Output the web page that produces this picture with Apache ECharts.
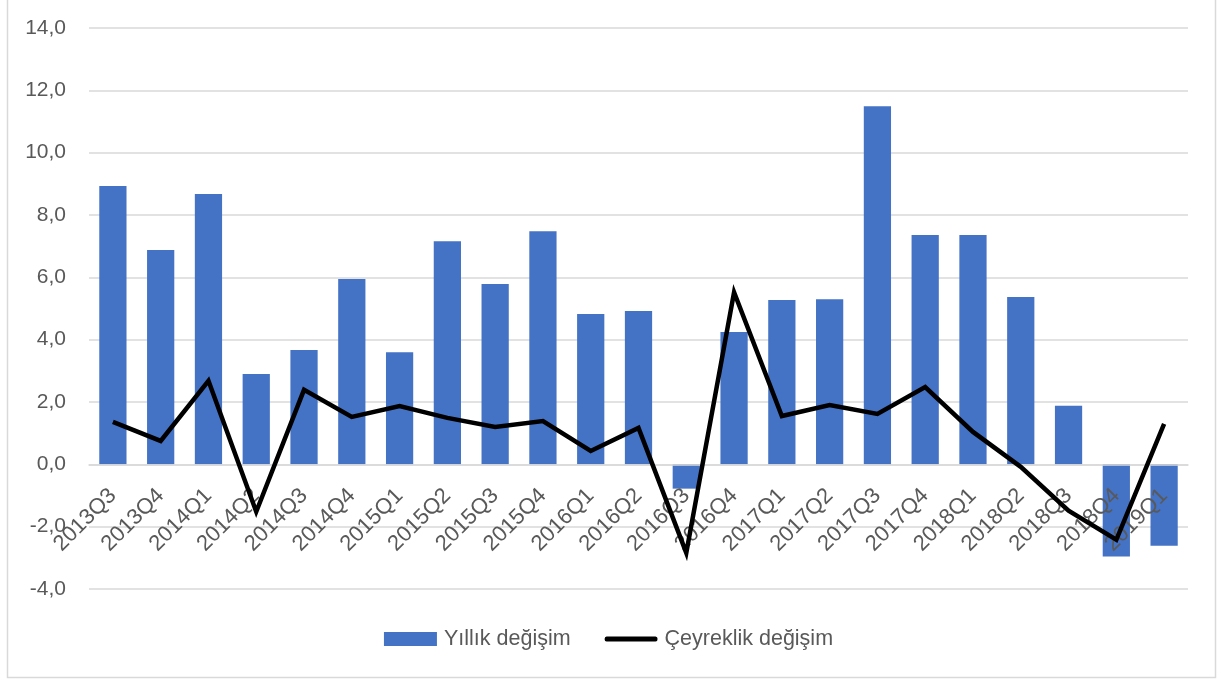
<!DOCTYPE html>
<html>
<head>
<meta charset="utf-8">
<script src="https://cdn.jsdelivr.net/npm/echarts@6/dist/echarts.min.js"></script>
<style>
html,body{margin:0;padding:0;background:#fff;}
#chart{width:1217px;height:679px;}
</style>
</head>
<body>
<div id="chart"></div>
<script>
const categories = ['2013Q3','2013Q4','2014Q1','2014Q2','2014Q3','2014Q4','2015Q1','2015Q2','2015Q3','2015Q4','2016Q1','2016Q2','2016Q3','2016Q4','2017Q1','2017Q2','2017Q3','2017Q4','2018Q1','2018Q2','2018Q3','2018Q4','2019Q1'];
const yillik = [8.93, 6.88, 8.67, 2.90, 3.67, 5.95, 3.60, 7.16, 5.79, 7.48, 4.82, 4.92, -0.78, 4.25, 5.27, 5.30, 11.49, 7.36, 7.36, 5.37, 1.88, -2.96, -2.61];
const ceyreklik = [1.36, 0.75, 2.68, -1.52, 2.39, 1.52, 1.87, 1.49, 1.20, 1.39, 0.43, 1.17, -2.84, 5.52, 1.55, 1.90, 1.62, 2.48, 1.04, -0.08, -1.49, -2.42, 1.30];
const seriesNames = ['Yıllık değişim', 'Çeyreklik değişim'];
const yMin = -4, yMax = 14, yStep = 2;

const FONT = '"Liberation Sans", "DejaVu Sans", sans-serif';
const gridTop = 28, gridBottom = 90, H = 679;
const plotH = H - gridTop - gridBottom;
const zeroOffset = -plotH * (0 - yMin) / (yMax - yMin);

const chart = echarts.init(document.getElementById('chart'), null, {renderer: 'canvas'});
chart.setOption({
  animation: false,
  backgroundColor: '#ffffff',
  graphic: [{
    type: 'rect', silent: true, z: -1,
    shape: {x: 7.5, y: -2, width: 1208, height: 679.5},
    style: {fill: 'none', stroke: '#d9d9d9', lineWidth: 1.5}
  }],
  grid: {left: 89, right: 29, top: gridTop, bottom: gridBottom, containLabel: false},
  legend: {
    bottom: 24, left: 'center',
    itemWidth: 53, itemHeight: 14, itemGap: 34,
    textStyle: {color: '#595959', fontSize: 21.5, fontFamily: FONT, padding: [0,0,0,2]},
    data: [
      {name: seriesNames[0], icon: 'rect'},
      {name: seriesNames[1], icon: 'path://M2,0 L51,0 Q53,0 53,2.5 Q53,5 51,5 L2,5 Q0,5 0,2.5 Q0,0 2,0 Z', itemStyle: {color: '#000'}}
    ]
  },
  xAxis: {
    type: 'category',
    data: categories,
    offset: zeroOffset,
    z: 2,
    axisLine: {onZero: false, lineStyle: {color: '#d9d9d9', width: 1.5}},
    axisTick: {show: false},
    axisLabel: {rotate: 45, margin: 28, color: '#595959', fontSize: 22, fontFamily: FONT, interval: 0}
  },
  yAxis: {
    type: 'value',
    min: yMin, max: yMax, interval: yStep,
    axisLine: {show: false},
    axisTick: {show: false},
    splitLine: {lineStyle: {color: '#d9d9d9', width: 1.5}},
    axisLabel: {
      margin: 23, color: '#595959', fontSize: 21, fontFamily: FONT,
      formatter: v => v.toFixed(1).replace('.', ',')
    }
  },
  series: [
    {
      name: seriesNames[0], type: 'bar', data: yillik,
      barCategoryGap: '43%',
      z: 1,
      itemStyle: {color: '#4472C4'}
    },
    {
      name: seriesNames[1], type: 'line', data: ceyreklik,
      symbol: 'none',
      lineStyle: {color: '#000000', width: 4.5, join: 'miter'},
      itemStyle: {color: '#000000'},
      z: 3
    }
  ]
});
</script>
</body>
</html>
